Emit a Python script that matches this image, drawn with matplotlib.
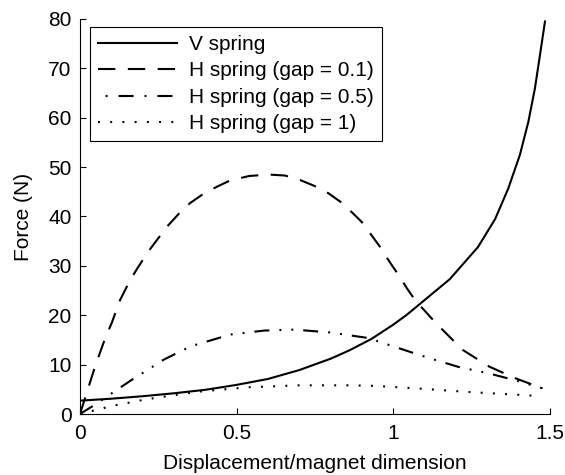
import matplotlib
matplotlib.use("Agg")
import matplotlib.pyplot as plt
from matplotlib.lines import Line2D

plt.rcParams['font.family'] = ['Liberation Sans', 'DejaVu Sans']
plt.rcParams['lines.scale_dashes'] = False

# V spring
x_v = [0, 0.1, 0.2, 0.3, 0.4, 0.5, 0.6, 0.7, 0.8, 0.86, 0.93, 1.0, 1.043, 1.085,
       1.18, 1.27, 1.325, 1.367, 1.404, 1.431, 1.452, 1.468, 1.484]
f_v = [2.7, 3.1, 3.6, 4.2, 4.9, 5.9, 7.1, 8.9, 11.2, 12.9, 15.2, 18.1, 20.1, 22.3,
       27.3, 33.8, 39.5, 45.7, 52.5, 59.2, 66.0, 72.7, 79.5]

# H spring gap = 0.1
x_h01 = [0, 0.021, 0.048, 0.080, 0.101, 0.128, 0.160, 0.186, 0.218, 0.245, 0.277,
         0.319, 0.351, 0.394, 0.436, 0.479, 0.540, 0.601, 0.654, 0.702, 0.748,
         0.793, 0.835, 0.872, 0.899, 0.926, 0.957, 0.984, 1.016, 1.043, 1.069,
         1.136, 1.221, 1.306, 1.391, 1.476]
f_h01 = [0, 4.2, 9.6, 15.3, 18.4, 23.1, 27.1, 29.8, 32.9, 35.2, 37.9,
         40.8, 42.7, 44.6, 46.0, 47.3, 48.2, 48.5, 48.3, 47.4, 46.2,
         44.7, 42.8, 40.6, 38.9, 36.6, 33.9, 31.2, 28.2, 25.5, 23.1,
         18.4, 13.0, 9.6, 7.2, 5.2]

# H spring gap = 0.5
x_h05 = [0, 0.043, 0.16, 0.267, 0.353, 0.48, 0.588, 0.684, 0.8, 0.919, 1.019,
         1.115, 1.21, 1.306, 1.391, 1.476]
f_h05 = [0, 1.7, 6.7, 11.0, 13.7, 16.1, 16.9, 17.1, 16.5, 15.4, 13.3,
         11.3, 9.5, 8.2, 6.8, 5.2]

# H spring gap = 1
x_h1 = [0, 0.107, 0.214, 0.374, 0.534, 0.694, 0.86, 0.94, 1.072, 1.23, 1.45]
f_h1 = [0, 1.7, 3.0, 4.5, 5.4, 5.8, 5.8, 5.7, 5.2, 4.5, 3.7]

labels = ['V spring', 'H spring (gap = 0.1)', 'H spring (gap = 0.5)', 'H spring (gap = 1)']
x_ticks = [0, 0.5, 1, 1.5]
x_ticklabels = ['0', '0.5', '1', '1.5']
y_ticks = [0, 10, 20, 30, 40, 50, 60, 70, 80]

fig = plt.figure(figsize=(5.65, 4.75), dpi=100)
ax = fig.add_axes([80/565, 1-414/475, 470/565, 395/475])

lw = 1.5
dash = (0, (12.5, 9.0))
dashdot_plot = (0, (10.8, 7.2, 1.4, 7.2, 1.4, 7.2))
dotted = (0, (1.4, 7.4))

ax.plot(x_v, f_v, color='black', lw=lw, linestyle='-')
ax.plot(x_h01, f_h01, color='black', lw=lw, linestyle=dash)
ax.plot(x_h05, f_h05, color='black', lw=lw, linestyle=dashdot_plot)
ax.plot(x_h1, f_h1, color='black', lw=lw, linestyle=dotted)

handles = [
    Line2D([], [], color='black', lw=lw, linestyle='-'),
    Line2D([], [], color='black', lw=lw, linestyle=dash),
    Line2D([], [], color='black', lw=lw, linestyle=(13.2, (10.8, 7.9, 1.4, 7.9))),
    Line2D([], [], color='black', lw=lw, linestyle=dotted),
]

ax.set_xlim(0, 1.5)
ax.set_ylim(0, 80)
ax.set_xticks(x_ticks)
ax.set_xticklabels(x_ticklabels)
ax.set_yticks(y_ticks)
for s in ['top', 'right']:
    ax.spines[s].set_visible(False)
for s in ['left', 'bottom']:
    ax.spines[s].set_linewidth(0.8)
    ax.spines[s].set_color('black')
ax.tick_params(direction='in', length=4, width=0.8, labelsize=15, colors='black')
ax.tick_params(axis='x', pad=7)
ax.tick_params(axis='y', pad=6)

ax.set_xlabel('Displacement/magnet dimension', fontsize=15, labelpad=8)
ax.set_ylabel('Force (N)', fontsize=15, labelpad=11)

leg = ax.legend(handles, labels, loc='upper left', bbox_to_anchor=(0.021, 0.98),
                borderaxespad=0, fontsize=15, handlelength=3.8, handletextpad=0.6,
                labelspacing=0.36, borderpad=0.38, fancybox=False, framealpha=1,
                edgecolor='black')
leg.get_frame().set_linewidth(0.8)

fig.savefig('out.png', dpi=100)
